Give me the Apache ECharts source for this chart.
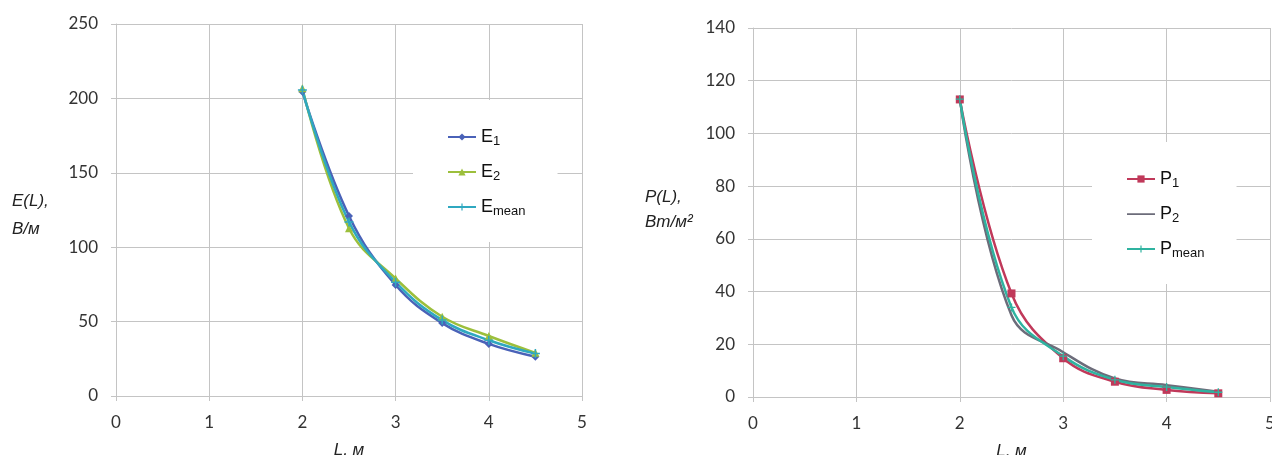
<!DOCTYPE html>
<html>
<head>
<meta charset="utf-8">
<script src="https://cdn.jsdelivr.net/npm/echarts@6/dist/echarts.min.js"></script>
<style>
html,body{margin:0;padding:0;background:#fff;}
#c{width:1272px;height:455px;}
</style>
</head>
<body>
<div id="c"></div>
<script>
// ---- data ----
const L = [2, 2.5, 3, 3.5, 4, 4.5];
const E1 = [204.5, 121, 74.6, 49, 35, 26.4];
const E2 = [206.8, 112.7, 79, 53.3, 40.3, 29];
const Emean = [205.6, 117, 76.5, 51, 37.5, 28.5];
const P1 = [112.9, 39.3, 14.7, 5.8, 2.7, 1.4];
const P2 = [113, 31, 17, 7, 4.5, 2];
const Pmean = [113, 34, 15.5, 6.5, 3.8, 1.8];
const xTicks = [0, 1, 2, 3, 4, 5];
const leftYTicks = [0, 50, 100, 150, 200, 250];
const rightYTicks = [0, 20, 40, 60, 80, 100, 120, 140];
const leftNames = ['E1', 'E2', 'Emean'];
const rightNames = ['P1', 'P2', 'Pmean'];

const pairs = (xs, ys) => xs.map((x, i) => [x, ys[i]]);
const plus = 'path://M4,0h1.6v4h4v1.6h-4v4h-1.6v-4h-4v-1.6h4z';
const plainLineIcon = 'path://M0,0h0.01v0.01h-0.01z M0,3.7h28v1.8h-28z M0,9h0.01v0.01h-0.01z';

const gridColor = '#c4c4c4';
const tickFont = {fontFamily: 'Lato', fontSize: 17, color: '#333'};
const titleFont = {fontFamily: 'Liberation Sans', fontStyle: 'italic', fontSize: 17, color: '#222'};

function xAxis(gi) {
  return {
    type: 'value', gridIndex: gi, min: xTicks[0], max: xTicks[xTicks.length - 1], interval: 1,
    name: 'L, м', nameLocation: 'middle', nameGap: 46,
    nameTextStyle: titleFont,
    axisLine: {show: true, lineStyle: {color: gridColor}},
    axisTick: {show: true, length: 5, lineStyle: {color: gridColor}},
    axisLabel: Object.assign({margin: 18}, tickFont),
    splitLine: {show: true, lineStyle: {color: gridColor, width: 1}}
  };
}
function yAxis(gi, ticks, interval, nameRich, gap, lh, spacer) {
  return {
    type: 'value', gridIndex: gi, min: ticks[0], max: ticks[ticks.length - 1], interval: interval,
    name: nameRich, nameLocation: 'middle', nameGap: gap, nameRotate: 0,
    nameTextStyle: Object.assign({align: 'left', rich: {
      a: Object.assign({lineHeight: lh, align: 'left'}, titleFont),
      t: {fontSize: 1, lineHeight: spacer, height: spacer}
    }}, titleFont),
    axisLine: {show: true, lineStyle: {color: gridColor}},
    axisTick: {show: true, length: 5, lineStyle: {color: gridColor}},
    axisLabel: Object.assign({margin: 18}, tickFont),
    splitLine: {show: true, lineStyle: {color: gridColor, width: 1}}
  };
}

function legend(names, left, top) {
  return {
    data: names.map(n => n === 'P2' ? {name: n, icon: plainLineIcon} : n),
    orient: 'vertical', left: left, top: top,
    itemWidth: 28, itemHeight: 9, itemGap: 15,
    padding: [28, 32, 24, 34], backgroundColor: '#fff',
    formatter: n => '{m|' + n[0] + '}{s|' + n.slice(1) + '}',
    textStyle: {
      rich: {
        m: {fontFamily: 'Liberation Sans', fontSize: 18, color: '#111', lineHeight: 22},
        s: {fontFamily: 'Liberation Sans', fontSize: 13, color: '#111', lineHeight: 22, verticalAlign: 'bottom'}
      }
    }
  };
}

function line(name, ys, gi, color, symbol, size) {
  return {
    name: name, type: 'line', xAxisIndex: gi, yAxisIndex: gi,
    data: pairs(L, ys), smooth: 0.4,
    symbol: symbol, symbolSize: size, showSymbol: symbol !== 'none',
    lineStyle: {color: color, width: 2.5},
    itemStyle: {color: color},
    emphasis: {disabled: true}
  };
}

const chart = echarts.init(document.getElementById('c'), null, {renderer: 'canvas'});
chart.setOption({
  animation: false,
  backgroundColor: '#fff',
  grid: [
    {left: 116, top: 24, width: 466, height: 372, outerBoundsMode: 'none', containLabel: false},
    {left: 753, top: 28, width: 517, height: 369, outerBoundsMode: 'none', containLabel: false}
  ],
  xAxis: [xAxis(0), xAxis(1)],
  yAxis: [
    yAxis(0, leftYTicks, 50, '{t| }\n{a|E(L),}\n{a|В/м}', 104, 28, 10),
    yAxis(1, rightYTicks, 20, '{a|P(L),}\n{a|Bm/м²}\n{t| }', 108, 25, 6)
  ],
  legend: [legend(leftNames, 413, 100), legend(rightNames, 1092, 142)],
  series: [
    line('E1', E1, 0, '#4a62b8', 'diamond', 8),
    line('E2', E2, 0, '#9cbf3c', 'triangle', 8),
    line('Emean', Emean, 0, '#2fa8c0', plus, 9),
    line('P1', P1, 1, '#c0395a', 'rect', 8),
    line('P2', P2, 1, '#6c6c7a', 'none', 0),
    line('Pmean', Pmean, 1, '#2fb3a0', plus, 8)
  ]
});
</script>
</body>
</html>
